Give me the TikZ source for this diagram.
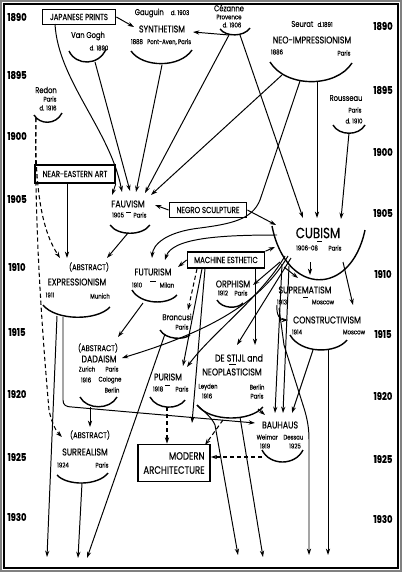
\documentclass[tikz,border=0pt]{standalone}
\usepackage{fontspec}
\newfontfamily\barr{Poppins}[FakeStretch=0.8,FakeBold=0.3]
\usetikzlibrary{arrows.meta}

\begin{document}
\begin{tikzpicture}[x=0.025cm,y=-0.025cm,
  >={Stealth[length=4.5pt,width=3pt]},
  yr/.style={font=\barr\fontsize{7.5}{8}\selectfont\bfseries,inner sep=0},
  mv/.style={font=\barr\fontsize{7}{8}\selectfont,inner sep=0},
  sm/.style={font=\barr\fontsize{4.8}{5}\selectfont,inner sep=0},
  nm/.style={font=\barr\fontsize{6}{6}\selectfont,inner sep=0},
  src/.style={draw,line width=1.1pt,font=\barr\fontsize{6.2}{7}\selectfont,inner sep=1pt},
  bowl/.style={line width=1pt},
  ln/.style={line width=0.7pt},
  dsh/.style={line width=0.75pt,dash pattern=on 3pt off 2pt}]
				\fill[white] (0,0) rectangle (402,572);
				\draw[gray,line width=1pt] (1,1) rectangle (401,571);
				\draw[line width=1.2pt] (4,4) rectangle (398,568);
				% years
				\node[yr] (l1890) at (17,17) {1890};
				\node[yr] (l1895) at (17,75) {1895};
				\node[yr] (l1900) at (17,136) {1900};
				\node[yr] (l1905) at (17,199) {1905};
				\node[yr] (l1910) at (17,267) {1910};
				\node[yr] (l1915) at (17,332) {1915};
				\node[yr] (l1920) at (17,394) {1920};
				\node[yr] (l1925) at (17,457) {1925};
				\node[yr] (l1930) at (17,517) {1930};
				\node[yr] (r1890) at (383,26) {1890};
				\node[yr] (r1895) at (383,90) {1895};
				\node[yr] (r1900) at (383,152) {1900};
				\node[yr] (r1905) at (383,213) {1905};
				\node[yr] (r1910) at (383,274) {1910};
				\node[yr] (r1915) at (383,334) {1915};
				\node[yr] (r1920) at (383,396) {1920};
				\node[yr] (r1925) at (383,459) {1925};
				\node[yr] (r1930) at (383,519) {1930};
				% sources
				\node[src,minimum width=1.83cm,minimum height=0.375cm] (jp) at (79,17) {JAPANESE PRINTS};
				\node[src,minimum width=2cm,minimum height=0.45cm] (ne) at (75,174) {NEAR-EASTERN ART};
				\node[src,minimum width=1.93cm,minimum height=0.375cm] (ns) at (208,210) {NEGRO SCULPTURE};
				\node[src,minimum width=1.93cm,minimum height=0.4cm] (me) at (226,260) {MACHINE ESTHETIC};
				\node[src,align=right,font=\barr\fontsize{7.6}{10}\selectfont,minimum width=1.8cm,minimum height=0.925cm] (ma) at (174,463) {MODERN\\ARCHITECTURE};
				% movements
				\node[nm] (vangogh) at (88,36) {Van Gogh};
				\node[sm] (vangoghd) at (99,48) {d. 1890};
				\draw[bowl] (69,51) .. controls (76,66) and (99,66) .. (106,49);
				\node[nm] (gauguin) at (162,13) {Gauguin\hspace{5pt}{\fontsize{4.8}{5}\selectfont d. 1903}};
				\node[mv] (syn) at (162,29) {SYNTHETISM};
				\node[sm] (synd) at (161,42) {1888\hspace{3pt}Pont-Aven, Paris};
				\draw[bowl] (131,51) .. controls (143,68) and (180,68) .. (192,50);
				\node[nm] (cezanne) at (229,8) {Cézanne};
				\node[sm] (provence) at (229,17) {Provence};
				\node[sm] (cezanned) at (232,25) {d. 1906};
				\draw[bowl] (220,29) .. controls (226,37) and (244,37) .. (250,28);
				\node[nm] (seurat) at (312,24) {Seurat\hspace{3pt}{\fontsize{4.8}{5}\selectfont d.1891}};
				\node[mv] (neo) at (312,40) {NEO-IMPRESSIONISM};
				\node[sm] (neod) at (277,52) {1886};
				\node[sm] (neop) at (344,53) {Paris};
				\draw[bowl] (270,62) .. controls (286,88) and (336,88) .. (352,63);
				\node[nm] (rousseau) at (346,98) {Rousseau};
				\node[sm] (rousseaup) at (355,110) {Paris};
				\node[sm] (rousseaud) at (354,121) {d. 1910};
				\draw[bowl] (333,125) .. controls (339,136) and (359,136) .. (365,125);
				\node[nm] (redon) at (46,90) {Redon};
				\node[sm] (redonp) at (50,99) {Paris};
				\node[sm] (redond) at (48,108) {d. 1916};
				\draw[bowl] (34,115) .. controls (40,125) and (56,125) .. (62,113);
				\node[mv] (fauv) at (128,204) {FAUVISM};
				\node[sm] (fauvd) at (118,215) {1905};
				\node[sm] (fauvp) at (140,215) {Paris};
				\draw[line width=0.5pt] (126,212) -- (131,212);
				\draw[bowl] (110,225) .. controls (118,236) and (142,236) .. (150,225);
				\node[mv,font=\barr\fontsize{10.5}{11}\selectfont] (cub) at (318,233) {CUBISM};
				\node[sm] (cubd) at (307,248) {1906-08};
				\node[sm] (cubp) at (335,248) {Paris};
				\draw[line width=0.5pt] (317,241) -- (322,241);
				\draw[bowl] (272,226) .. controls (286,297) and (351,297) .. (365,230);
				\node[mv,font=\barr\fontsize{6}{6}\selectfont] (exabs) at (89,267) {(ABSTRACT)};
				\node[mv] (expr) at (77,282) {EXPRESSIONISM};
				\node[sm] (exprd) at (50,295) {1911};
				\node[sm] (exprp) at (100,296) {Munich};
				\draw[bowl] (43,305) .. controls (56,321) and (97,321) .. (110,307);
				\node[mv] (fut) at (153,272) {FUTURISM};
				\node[sm] (futd) at (137,285) {1910};
				\node[sm] (futp) at (167,285) {Milan};
				\draw[line width=0.5pt] (150,281) -- (156,281);
				\draw[bowl] (132,290) .. controls (141,305) and (168,305) .. (177,295);
				\node[mv] (orph) at (233,284) {ORPHISM};
				\node[sm] (orphd) at (223,293) {1912};
				\node[sm] (orphp) at (241,293) {Paris};
				\draw[bowl] (217,300) .. controls (222,309) and (238,309) .. (243,303);
				\node[mv] (supr) at (305,290) {SUPREMATISM};
				\node[sm] (suprd) at (282,302) {1913};
				\node[sm] (suprp) at (323,302) {Moscow};
				\draw[line width=0.5pt] (303,297) -- (308,297);
				\node[mv] (constr) at (327,320) {CONSTRUCTIVISM};
				\node[sm] (constrd) at (297,332) {1914};
				\node[sm] (constrp) at (354,332) {Moscow};
				\draw[bowl] (290,335) .. controls (301,354) and (336,354) .. (347,340);
				\node[nm] (brancusi) at (177,317) {Brancusi};
				\node[sm] (brancusip) at (182,327) {Paris};
				\draw[bowl] (160,330) .. controls (166,340) and (184,340) .. (190,335);
				\node[mv,font=\barr\fontsize{6}{6}\selectfont] (daabs) at (98,348) {(ABSTRACT)};
				\node[mv] (dada) at (99,359) {DADAISM};
				\node[sm] (dadaz) at (87,369) {Zurich};
				\node[sm] (dadap) at (112,369) {Paris};
				\node[sm] (dadad) at (86,380) {1916};
				\node[sm] (dadac) at (110,380) {Cologne};
				\node[sm] (dadab) at (112,390) {Berlin};
				\draw[bowl] (80,397) .. controls (87,410) and (110,410) .. (117,397);
				\node[mv] (pur) at (168,377) {PURISM};
				\node[sm] (purd) at (158,389) {1918};
				\node[sm] (purp) at (182,389) {Paris};
				\draw[line width=0.5pt] (165,385) -- (170,385);
				\draw[bowl] (150,397) .. controls (157,410) and (178,410) .. (185,400);
				\node[mv] (stijl) at (239,358) {DE STIJL and};
				\node[mv] (neopl) at (232,372) {NEOPLASTICISM};
				\node[sm] (stijll) at (208,387) {Leyden};
				\node[sm] (stijld) at (207,396) {1916};
				\node[sm] (stijlb) at (257,387) {Berlin};
				\node[sm] (stijlp) at (257,396) {Paris};
				\draw[line width=0.5pt] (229,364) -- (236,364);
				\draw[bowl] (197,405) .. controls (210,422) and (250,422) .. (263,407);
				\node[mv] (bau) at (280,425) {BAUHAUS};
				\node[sm] (bauwd) at (280,437) {Weimar\hspace{4pt}Dessau};
				\node[sm] (baud1) at (265,446) {1919};
				\node[sm] (baud2) at (295,446) {1925};
				\draw[bowl] (262,450) .. controls (270,466) and (295,466) .. (303,450);
				\node[mv,font=\barr\fontsize{6}{6}\selectfont] (suabs) at (90,435) {(ABSTRACT)};
				\node[mv] (surr) at (85,452) {SURREALISM};
				\node[sm] (surrd) at (63,465) {1924};
				\node[sm] (surrp) at (102,465) {Paris};
				\draw[bowl] (57,475) .. controls (67,486) and (98,486) .. (108,473);
				% connector ends
				\coordinate (vg) at (95,62);
				\coordinate (ga) at (162,65);
				\coordinate (cz) at (229,35);
				\coordinate (czr) at (240,35);
				\coordinate (neol) at (282,75);
				\coordinate (neom) at (300,81);
				\coordinate (neor) at (317,82);
				\coordinate (rou) at (349,133);
				\coordinate (re) at (36,118);
				\coordinate (synin) at (193,32);
				\coordinate (synjp) at (134,27);
				\coordinate (fv1) at (122,192);
				\coordinate (fv2) at (130,191);
				\coordinate (fv3) at (136,192);
				\coordinate (fv4) at (145,193);
				\coordinate (fv5) at (151,195);
				\coordinate (fvne) at (112,195);
				\coordinate (fvns) at (155,205);
				\coordinate (fvb) at (128,233);
				\coordinate (cb1) at (303,218);
				\coordinate (cb2) at (317,218);
				\coordinate (cb3) at (341,219);
				\coordinate (cbns) at (276,225);
				\coordinate (cbme) at (275,247);
				\coordinate (cbl) at (277,235);
				\coordinate (ex1) at (60,258);
				\coordinate (ex2) at (67,258);
				\coordinate (ex3) at (107,258);
				\coordinate (exb1) at (57,316);
				\coordinate (exb2) at (63,317);
				\coordinate (ft1) at (152,258);
				\coordinate (ft2) at (165,260);
				\coordinate (ft3) at (178,267);
				\coordinate (ftb) at (143,303);
				\coordinate (da1) at (118,337);
				\coordinate (da2) at (122,358);
				\coordinate (dab) at (90,407);
				\coordinate (su1) at (62,437);
				\coordinate (su2) at (90,427);
				\coordinate (sub) at (82,483);
				\coordinate (br1) at (188,310);
				\coordinate (brb) at (165,334);
				\coordinate (pu1) at (183,366);
				\coordinate (pu2) at (187,367);
				\coordinate (pub) at (167,407);
				\coordinate (or1) at (253,285);
				\coordinate (st1) at (237,345);
				\coordinate (st2) at (255,345);
				\coordinate (stb1) at (215,425);
				\coordinate (stb2) at (240,417);
				\coordinate (stbm) at (223,420);
				\coordinate (stbr) at (258,409);
				\coordinate (sp1) at (298,278);
				\coordinate (sp2) at (310,275);
				\coordinate (spb) at (279,308);
				\coordinate (co1) at (353,305);
				\coordinate (co2) at (288,320);
				\coordinate (cob1) at (313,350);
				\coordinate (cob2) at (328,350);
				\coordinate (ba1) at (255,423);
				\coordinate (ba2) at (265,415);
				\coordinate (ba3) at (275,413);
				\coordinate (ba4) at (283,413);
				\coordinate (ba5) at (292,413);
				\coordinate (bab) at (262,457);
				\coordinate (mae) at (192,423);
				\coordinate (b1) at (47,557);
				\coordinate (b2) at (78,558);
				\coordinate (b3) at (87,558);
				\coordinate (b4) at (238,555);
				\coordinate (b5) at (263,557);
				\coordinate (b6) at (309,555);
				\coordinate (b7) at (328,555);
				% connectors
				\draw[->,ln] (jp.east) -- (synjp);
				\draw[->,ln] (55,24) .. controls (58,80) and (110,130) .. (fv1);
				\draw[->,ln] (vg) -- (fv2);
				\draw[->,ln] (ga) -- (fv3);
				\draw[->,ln] (cz) -- (synin);
				\draw[->,ln] (cz) -- (fv4);
				\draw[->,ln] (czr) -- (cb1);
				\draw[->,ln] (neol) -- (fv5);
				\draw[->,ln] (neom) -- (260,200) .. controls (252,220) and (230,224) .. (200,228) .. controls (165,232) and (153,245) .. (ft1);
				\draw[->,ln] (neor) -- (cb2);
				\draw[->,ln] (rou) -- (cb3);
				\draw[->,dsh] (re) .. controls (34,200) and (45,235) .. (ex1);
				\draw[->,dsh] (re) .. controls (34,220) and (42,330) .. (49,410) .. controls (52,425) and (57,432) .. (su1);
				\draw[->,ln] (ne.south -| ex2) -- (ex2);
				\draw[->,ln] (ne.south east) -- (fvne);
				\draw[->,ln] (ns.west) -- (fvns);
				\draw[->,ln] (ns.east) -- (cbns);
				\draw[->,ln] (fvb) -- (ex3);
				\draw[->,ln] (cbl) .. controls (220,235) and (172,238) .. (ft2);
				\draw[->,ln] (me.west) -- (ft3);
				\draw[->,ln] (me.north east) -- (cbme);
				\draw[->,dsh] (me.south -| 197,0) -- (br1);
				\draw[->,ln] (me.south -| 202,0) -- (pu1);
				\draw[->,ln] (me.south -| 205,0) -- (mae);
				\draw[->,ln] (exb1) -- (b1);
				\draw[->,ln] (exb2) -- (63,400) .. controls (63,405) and (66,407) .. (72,407) -- (ba1);
				\draw[->,ln] (ftb) -- (da1);
				\draw[->,ln] (dab) -- (su2);
				\draw[->,ln] (sub) -- (b2);
				\draw[->,ln] (brb) -- (b3);
				\draw[->,dsh] (pub) -- (ma.north -| pub);
				\draw[->,dsh] (stbm) -- (205,445);
				\draw[->,dsh] (bab) -- (ma.east |- bab);
				\draw[->,ln] (stbr) -- (ba2);
				\draw[->,ln] (197,405) .. controls (205,412) and (212,418) .. (stb1) -- (b4);
				\draw[->,ln] (stb2) -- (b5);
				\draw[->,ln] (cob1) -- (ba5);
				\draw[->,ln] (cob2) -- (b7);
				\draw[->,ln] (277,305) .. controls (276,315) and (280,320) .. (co2);
				\draw[->,ln] (spb) -- (284,345) -- (303,405) .. controls (308,420) and (309,430) .. (309,440) -- (b6);
				% from cubism
				\draw[->,ln] (288,256) .. controls (262,300) and (215,330) .. (da2);
				\draw[->,ln] (285,256) .. controls (262,296) and (210,335) .. (pu2);
				\draw[->,ln] (291,258) -- (st1);
				\draw[->,ln] (280,262) -- (or1);
				\draw[->,ln] (me.south -| st2) -- (st2);
				\draw[->,ln] (282,264) -- (ba3);
				\draw[->,ln] (289,266) -- (ba4);
				\draw[->,ln] (284,267) -- (sp1);
				\draw[->,ln] (310,262) -- (sp2);
				\draw[->,ln] (343,262) -- (co1);
			\end{tikzpicture}
\end{document}
